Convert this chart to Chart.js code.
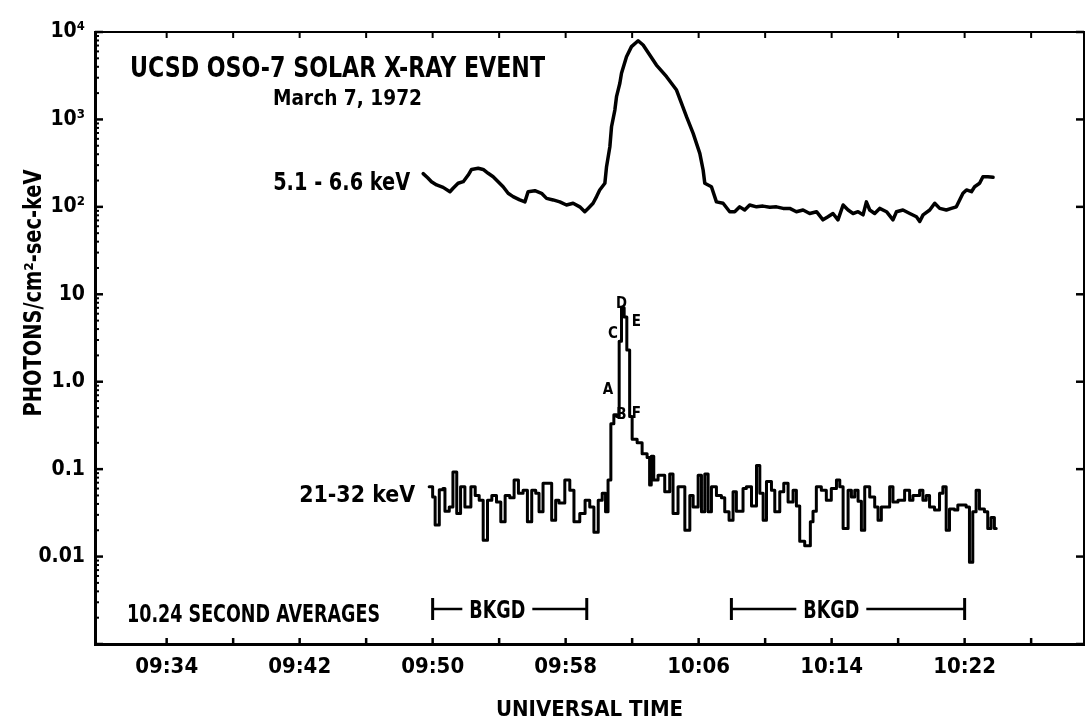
<!DOCTYPE html>
<html>
<head>
<meta charset="utf-8">
<title>UCSD OSO-7 Solar X-Ray Event, March 7, 1972</title>
<script src="https://cdn.jsdelivr.net/npm/chart.js@4.4.1/dist/chart.umd.min.js"></script>
<style>
  html, body { margin: 0; padding: 0; background: #fff; }
  #wrap { position: relative; width: 1089px; height: 723px; }
  canvas { display: block; }
</style>
</head>
<body>
<div id="wrap"><canvas id="c" width="1089" height="723"></canvas></div>
<script>
// Times are minutes after 09:00 UT; fluxes in photons / cm^2-sec-keV.

// 5.1 - 6.6 keV channel
const SOFT_TIME = [
  49.43, 49.70, 49.93, 50.24, 50.63, 51.04, 51.23, 51.53, 51.84, 52.14,
  52.34, 52.74, 53.04, 53.34, 53.64, 53.94, 54.24, 54.54, 54.84, 55.24,
  55.55, 55.74, 56.15, 56.55, 56.85, 57.25, 57.65, 58.05, 58.45, 58.85,
  59.15, 59.35, 59.65, 59.86, 60.05, 60.36, 60.46, 60.66, 60.76, 60.96,
  61.06, 61.26, 61.36, 61.66, 61.96, 62.36, 62.66, 63.06, 63.46, 64.07,
  64.67, 64.97, 65.27, 65.67, 66.07, 66.27, 66.37, 66.77, 67.07, 67.47,
  67.87, 68.17, 68.47, 68.77, 69.07, 69.48, 69.87, 70.28, 70.68, 71.08,
  71.48, 71.88, 72.28, 72.68, 73.09, 73.48, 73.78, 74.08, 74.38, 74.69,
  74.99, 75.29, 75.59, 75.89, 76.09, 76.29, 76.59, 76.89, 77.30, 77.69,
  77.90, 78.29, 78.70, 79.10, 79.30, 79.50, 79.90, 80.20, 80.50, 80.90,
  81.20, 81.50, 81.70, 81.90, 82.11, 82.41, 82.60, 82.90, 83.10, 83.40,
  83.71
];
const SOFT_FLUX = [
  240, 215, 194, 178, 167, 149, 163, 186, 194, 231,
  268, 276, 268, 242, 221, 194, 170, 143, 131, 120,
  114, 149, 153, 143, 125, 120, 114, 105, 110, 100,
  88, 96, 110, 131, 156, 186, 288, 487, 825, 1280,
  1820, 2590, 3370, 5220, 6800, 7950, 7100, 5460, 4190, 3080,
  2170, 1530, 1075, 693, 409, 264, 186, 170, 114, 110,
  88, 88, 100, 92, 105, 100, 102, 99, 100, 96,
  96, 88, 92, 84, 88, 71, 77, 84, 71, 105,
  92, 84, 88, 81, 114, 92, 84, 96, 88, 71,
  88, 92, 84, 77, 68, 81, 92, 110, 96, 92,
  96, 100, 120, 143, 156, 149, 170, 186, 221, 221,
  218
];

// 21 - 32 keV channel, 10.24 s averages (value holds until the next time)
const HARD_TIME = [
  49.79, 50.00, 50.15, 50.40, 50.62, 50.74, 51.00, 51.22, 51.45, 51.68,
  51.94, 52.30, 52.56, 52.80, 53.04, 53.30, 53.56, 53.84, 54.10, 54.36,
  54.64, 54.90, 55.16, 55.44, 55.70, 55.96, 56.20, 56.40, 56.64, 56.90,
  57.16, 57.40, 57.60, 57.95, 58.25, 58.50, 58.85, 59.17, 59.45, 59.70,
  59.96, 60.20, 60.40, 60.55, 60.72, 60.90, 61.08, 61.22, 61.36, 61.52,
  61.68, 61.85, 62.00, 62.30, 62.60, 62.90, 63.05, 63.15, 63.30, 63.56,
  63.96, 64.26, 64.46, 64.76, 65.17, 65.47, 65.67, 65.97, 66.17, 66.37,
  66.57, 66.77, 67.07, 67.37, 67.57, 67.83, 68.07, 68.27, 68.67, 68.87,
  69.18, 69.48, 69.68, 69.88, 70.08, 70.38, 70.58, 70.88, 71.12, 71.38,
  71.68, 71.88, 72.08, 72.38, 72.72, 72.88, 73.08, 73.38, 73.68, 73.98,
  74.29, 74.49, 74.69, 74.99, 75.19, 75.39, 75.59, 75.79, 75.99, 76.29,
  76.59, 76.79, 76.99, 77.49, 77.69, 77.99, 78.39, 78.69, 78.89, 79.29,
  79.49, 79.69, 79.89, 80.19, 80.49, 80.69, 80.89, 81.09, 81.39, 81.59,
  81.79, 82.09, 82.29, 82.49, 82.69, 82.89, 83.19, 83.39, 83.59, 83.79,
  83.90
];
const HARD_FLUX = [
  0.063, 0.048, 0.023, 0.058, 0.060, 0.033, 0.037, 0.093, 0.031, 0.063,
  0.037, 0.063, 0.050, 0.044, 0.0154, 0.044, 0.050, 0.042, 0.025, 0.050,
  0.047, 0.075, 0.053, 0.0575, 0.025, 0.0575, 0.053, 0.0325, 0.069, 0.069,
  0.026, 0.044, 0.041, 0.075, 0.0575, 0.025, 0.031, 0.044, 0.037, 0.019,
  0.044, 0.053, 0.0325, 0.075, 0.33, 0.42, 0.40, 2.9, 7.0, 5.5,
  2.3, 0.40, 0.22, 0.20, 0.15, 0.136, 0.066, 0.14, 0.075, 0.085,
  0.055, 0.088, 0.031, 0.063, 0.020, 0.050, 0.037, 0.085, 0.0325, 0.088,
  0.0325, 0.063, 0.050, 0.047, 0.0325, 0.026, 0.055, 0.033, 0.060, 0.063,
  0.038, 0.110, 0.053, 0.026, 0.072, 0.0575, 0.0325, 0.055, 0.069, 0.042,
  0.0575, 0.038, 0.015, 0.0133, 0.025, 0.033, 0.063, 0.0575, 0.044, 0.060,
  0.075, 0.063, 0.021, 0.0575, 0.048, 0.0575, 0.043, 0.020, 0.063, 0.048,
  0.037, 0.026, 0.037, 0.063, 0.042, 0.044, 0.0575, 0.044, 0.050, 0.0575,
  0.044, 0.050, 0.037, 0.034, 0.053, 0.063, 0.020, 0.035, 0.034, 0.039,
  0.039, 0.037, 0.0086, 0.0325, 0.0575, 0.035, 0.0325, 0.021, 0.028, 0.021,
  0.021
];

// axis ticks and labels
const TIME_TICKS = [34, 38, 42, 46, 50, 54, 58, 62, 66, 70, 74, 78, 82, 86];
const TIME_LABEL_AT = [34, 42, 50, 58, 66, 74, 82];
const TIME_LABELS = ['09:34', '09:42', '09:50', '09:58', '10:06', '10:14', '10:22'];
const FLUX_LABEL_AT = [1e4, 1e3, 1e2, 10, 1, 0.1, 0.01];
const FLUX_LABELS = ['10\u2074', '10\u00b3', '10\u00b2', '10', '1.0', '0.1', '0.01'];

// background intervals and the sub-peaks marked on the hard channel
const BKGD_START = [50.0, 67.97];
const BKGD_END = [59.27, 82.0];
const BKGD_TEXT_AT = [53.89, 73.98];
const PEAK_MARKS = ['A', 'B', 'C', 'D', 'E', 'F'];
const PEAK_MARK_TIME = [60.54, 61.36, 60.84, 61.36, 62.26, 62.26];
const PEAK_MARK_FLUX = [0.845, 0.437, 3.72, 8.2, 5.07, 0.453];

// pick the narrowest bold sans face that is installed
function pickFont(cands) {
  const c = document.createElement('canvas').getContext('2d');
  const s = 'UNIVERSAL TIME 0123456789 keV';
  c.font = 'bold 40px monospace'; const mono = c.measureText(s).width;
  c.font = 'bold 40px serif'; const ser = c.measureText(s).width;
  for (const f of cands) {
    c.font = `bold 40px '${f}', monospace`; const w1 = c.measureText(s).width;
    c.font = `bold 40px '${f}', serif`; const w2 = c.measureText(s).width;
    if (w1 !== mono || w2 !== ser) return f;
  }
  return 'sans-serif';
}
const FACE = pickFont(['Liberation Sans Narrow', 'DejaVu Sans Condensed', 'DejaVu Sans']);
const NARROW = FACE === 'Liberation Sans Narrow';
const FAMILY = `'${FACE}', 'DejaVu Sans', sans-serif`;
const X_TICK_SIZE = NARROW ? 25 : 22;
const Y_TICK_SIZE = NARROW ? 25 : 21;
const TITLE_SIZE = NARROW ? 25 : 22;

const T_MIN = 29.69, T_MAX = 89.18;
const F_MIN = 0.001, F_MAX = 10000;

function isDecade(v) {
  const l = Math.log10(v);
  return Math.abs(l - Math.round(l)) < 1e-6;
}

function logTicks() {
  const out = [];
  for (let e = -3; e < 4; e++) {
    for (let m = 1; m < 10; m++) out.push({ value: m * Math.pow(10, e) });
  }
  out.push({ value: 1e4 });
  return out;
}

function text(ctx, str, x, y, size, maxW, align) {
  ctx.font = `bold ${size}px ${FAMILY}`;
  ctx.textAlign = align || 'left';
  ctx.textBaseline = 'alphabetic';
  if (maxW) ctx.fillText(str, x, y, maxW); else ctx.fillText(str, x, y);
}

const decorations = {
  id: 'decorations',
  afterDraw(chart) {
    const { ctx, chartArea: a } = chart;
    const x = chart.scales.x, y = chart.scales.y;
    ctx.save();
    ctx.strokeStyle = '#000';
    ctx.fillStyle = '#000';
    const seg = (x1, y1, x2, y2, w) => {
      ctx.lineWidth = w; ctx.beginPath(); ctx.moveTo(x1, y1); ctx.lineTo(x2, y2); ctx.stroke();
    };

    // inward tick marks on the flux axes
    for (const t of y.ticks) {
      const py = y.getPixelForValue(t.value);
      if (py < a.top - 1 || py > a.bottom + 1) continue;
      const major = isDecade(t.value);
      seg(a.left, py, a.left + (major ? 8 : 4), py, major ? 2.5 : 2);
      if (major) seg(a.right, py, a.right - 8, py, 2.5);
    }
    // inward tick marks on the time axes
    for (const v of TIME_TICKS) {
      const px = x.getPixelForValue(v);
      seg(px, a.bottom, px, a.bottom - 6, 2.5);
      seg(px, a.top, px, a.top + 6, 2);
    }

    // headings
    text(ctx, 'UCSD OSO-7 SOLAR X-RAY EVENT', 130, 77, 29, 415);
    text(ctx, 'March 7, 1972', 273, 105, 22, 149);

    // channel labels, placed at the start of each trace
    const sx = x.getPixelForValue(SOFT_TIME[0]);
    text(ctx, '5.1 - 6.6 keV', sx - 13, 190, 24, 137, 'right');
    const hx = x.getPixelForValue(HARD_TIME[0]);
    text(ctx, '21-32 keV', hx - 14, 502, 23, 116, 'right');

    // averaging note and background intervals
    text(ctx, '10.24 SECOND AVERAGES', 127, 622, 25, 253);
    const by = 609;
    for (let i = 0; i < BKGD_START.length; i++) {
      const x1 = x.getPixelForValue(BKGD_START[i]);
      const x2 = x.getPixelForValue(BKGD_END[i]);
      const xm = x.getPixelForValue(BKGD_TEXT_AT[i]);
      seg(x1, by - 11, x1, by + 11, 3);
      seg(x2, by - 11, x2, by + 11, 3);
      seg(x1, by, xm - 35, by, 2.5);
      seg(xm + 35, by, x2, by, 2.5);
      text(ctx, 'BKGD', xm, by + 9, 24, 56, 'center');
    }

    // sub-peak letters
    for (let i = 0; i < PEAK_MARKS.length; i++) {
      const px = x.getPixelForValue(PEAK_MARK_TIME[i]);
      const py = y.getPixelForValue(PEAK_MARK_FLUX[i]);
      text(ctx, PEAK_MARKS[i], px, py + 6, 15, 11, 'center');
    }

    // vertical axis title
    ctx.save();
    ctx.translate(33, 293);
    ctx.rotate(-Math.PI / 2);
    text(ctx, 'PHOTONS/cm\u00b2-sec-keV', 0, 8, 24, 247, 'center');
    ctx.restore();

    ctx.restore();
  }
};

new Chart(document.getElementById('c'), {
  type: 'line',
  data: {
    datasets: [
      {
        label: '5.1 - 6.6 keV',
        data: SOFT_TIME.map((t, i) => ({ x: t, y: SOFT_FLUX[i] })),
        borderColor: '#000',
        borderWidth: 3.5,
        borderJoinStyle: 'round',
        borderCapStyle: 'round',
        pointRadius: 0,
        tension: 0,
        xAxisID: 'x',
        yAxisID: 'y'
      },
      {
        label: '21-32 keV',
        data: HARD_TIME.map((t, i) => ({ x: t, y: HARD_FLUX[i] })),
        borderColor: '#000',
        borderWidth: 3,
        borderJoinStyle: 'round',
        borderCapStyle: 'round',
        pointRadius: 0,
        stepped: true,
        xAxisID: 'x',
        yAxisID: 'y'
      }
    ]
  },
  options: {
    responsive: false,
    animation: false,
    devicePixelRatio: 1,
    layout: { padding: 0 },
    plugins: { legend: { display: false }, tooltip: { enabled: false } },
    scales: {
      x: {
        type: 'linear', position: 'bottom', min: T_MIN, max: T_MAX,
        afterFit(s) { s.height = 79; },
        afterBuildTicks(s) { s.ticks = TIME_TICKS.map(v => ({ value: v })); },
        grid: { display: false, drawTicks: false },
        border: { display: true, color: '#000', width: 3 },
        ticks: {
          autoSkip: false, maxRotation: 0, padding: 10, color: '#000',
          font: { family: FAMILY, size: X_TICK_SIZE, weight: 'bold' },
          callback(v) { const i = TIME_LABEL_AT.indexOf(v); return i < 0 ? '' : TIME_LABELS[i]; }
        },
        title: {
          display: true, text: 'UNIVERSAL TIME', color: '#000',
          font: { family: FAMILY, size: TITLE_SIZE, weight: 'bold' },
          padding: { top: 0, bottom: 0 }
        }
      },
      x2: {
        type: 'linear', position: 'top', min: T_MIN, max: T_MAX,
        afterFit(s) { s.height = 32; },
        grid: { display: false, drawTicks: false },
        border: { display: true, color: '#000', width: 2 },
        ticks: { display: false }
      },
      y: {
        type: 'logarithmic', position: 'left', min: F_MIN, max: F_MAX,
        afterFit(s) { s.width = 95; },
        afterBuildTicks(s) { s.ticks = logTicks(); },
        grid: { display: false, drawTicks: false },
        border: { display: true, color: '#000', width: 3 },
        ticks: {
          autoSkip: false, padding: 10, color: '#000',
          font: { family: FAMILY, size: Y_TICK_SIZE, weight: 'bold' },
          callback(v) {
            for (let i = 0; i < FLUX_LABEL_AT.length; i++) {
              if (Math.abs(Math.log10(v) - Math.log10(FLUX_LABEL_AT[i])) < 1e-6) return FLUX_LABELS[i];
            }
            return '';
          }
        }
      },
      y2: {
        type: 'logarithmic', position: 'right', min: F_MIN, max: F_MAX,
        afterFit(s) { s.width = 5; },
        grid: { display: false, drawTicks: false },
        border: { display: true, color: '#000', width: 2 },
        ticks: { display: false }
      }
    }
  },
  plugins: [decorations]
});
</script>
</body>
</html>
